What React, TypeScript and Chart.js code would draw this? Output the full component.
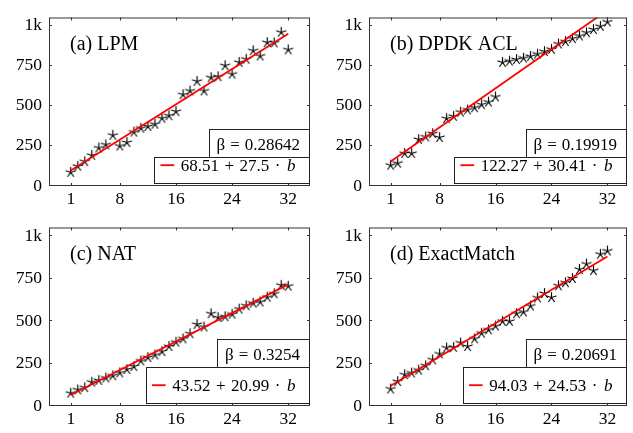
import React, { useEffect, useRef } from 'react';
import { Chart, registerables } from 'chart.js';

Chart.register(...registerables);

// ---------------- data ----------------
const bValues = [1, 2, 3, 4, 5, 6, 7, 8, 9, 10, 11, 12, 13, 14, 15, 16, 17, 18, 19, 20, 21, 22, 23, 24, 25, 26, 27, 28, 29, 30, 31, 32];
const xTickValues = [1, 8, 16, 24, 32];
const yTickValues = [0, 250, 500, 750, 1000];
const yTickLabels = ['0', '250', '500', '750', '1k'];

const lpmData = [85, 123, 152, 191, 237, 257, 316, 249, 271, 336, 360, 371, 385, 422, 438, 464, 569, 592, 652, 592, 675, 681, 750, 697, 770, 790, 843, 810, 894, 892, 958, 849];
const dpdkData = [129, 142, 203, 203, 290, 306, 326, 302, 420, 434, 460, 474, 488, 507, 523, 555, 770, 778, 788, 797, 808, 822, 838, 852, 885, 900, 918, 935, 955, 975, 995, 1022];
const natData = [75, 95, 108, 140, 150, 165, 178, 195, 215, 232, 265, 285, 300, 320, 350, 375, 395, 425, 480, 465, 543, 520, 525, 540, 570, 590, 605, 612, 640, 660, 710, 705];
const exactData = [100, 144, 184, 194, 211, 237, 272, 306, 342, 345, 371, 350, 395, 428, 448, 470, 498, 498, 543, 553, 588, 636, 662, 638, 707, 725, 750, 804, 835, 796, 893, 912];

const panelTitles = ['(a) LPM', '(b) DPDK ACL', '(c) NAT', '(d) ExactMatch'];
const intercepts = [68.51, 122.27, 43.52, 94.03];
const slopes = [27.5, 30.41, 20.99, 24.53];
const interceptLabels = ['68.51', '122.27', '43.52', '94.03'];
const slopeLabels = ['27.5', '30.41', '20.99', '24.53'];
const betaLabels = ['0.28642', '0.19919', '0.3254', '0.20691'];
const seriesList = [lpmData, dpdkData, natData, exactData];

// ---------------- layout ----------------
const SERIF = '"Liberation Serif", "Times New Roman", serif';
const panelBoxes = [
  { left: 0, top: 0, width: 316, height: 210, yAxisW: 49, xAxisH: 24, padTop: 7, xMax: 35.1 },
  { left: 316, top: 0, width: 317, height: 210, yAxisW: 53, xAxisH: 24, padTop: 7, xMax: 34.8 },
  { left: 0, top: 210, width: 316, height: 223, yAxisW: 49, xAxisH: 27, padTop: 17, xMax: 35.1 },
  { left: 316, top: 210, width: 317, height: 223, yAxisW: 53, xAxisH: 27, padTop: 17, xMax: 34.8 },
];

function makeStar(): HTMLCanvasElement {
  const c = document.createElement('canvas');
  const s = 13;
  c.width = s;
  c.height = s;
  const ctx = c.getContext('2d')!;
  ctx.strokeStyle = '#000';
  ctx.lineWidth = 1.15;
  ctx.lineCap = 'round';
  const cx = s / 2, cy = s / 2, r = 4.9;
  ctx.beginPath();
  for (let i = 0; i < 5; i++) {
    const a = -Math.PI / 2 + (i * 2 * Math.PI) / 5;
    ctx.moveTo(cx, cy);
    ctx.lineTo(cx + r * Math.cos(a), cy + r * Math.sin(a));
  }
  ctx.stroke();
  return c;
}

const decorPlugin = {
  id: 'decor',
  afterDatasetsDraw(chart: any, _args: any, opts: any) {
    const { ctx, chartArea: ca, scales } = chart;
    const idx: number = opts.index;
    ctx.save();
    // frame
    ctx.strokeStyle = '#333';
    ctx.lineWidth = 1;
    ctx.strokeRect(ca.left + 0.5, ca.top + 0.5, ca.right - ca.left - 1, ca.bottom - ca.top - 1);
    // inside ticks
    const tl = 3;
    ctx.beginPath();
    xTickValues.forEach((v) => {
      const px = Math.round(scales.x.getPixelForValue(v)) + 0.5;
      ctx.moveTo(px, ca.bottom);
      ctx.lineTo(px, ca.bottom - tl);
      ctx.moveTo(px, ca.top);
      ctx.lineTo(px, ca.top + tl);
    });
    yTickValues.forEach((v) => {
      const py = Math.round(scales.y.getPixelForValue(v)) - 0.5;
      ctx.moveTo(ca.left, py);
      ctx.lineTo(ca.left + tl, py);
      ctx.moveTo(ca.right, py);
      ctx.lineTo(ca.right - tl, py);
    });
    ctx.stroke();

    // title
    ctx.fillStyle = '#000';
    ctx.textBaseline = 'alphabetic';
    ctx.textAlign = 'left';
    ctx.font = `20px ${SERIF}`;
    ctx.fillText(panelTitles[idx], ca.left + 21, ca.top + 32);

    const right = ca.right - 0.5;
    ctx.font = `17px ${SERIF}`;
    // beta box
    const betaTop = Math.round(ca.top + 111) + 0.5;
    const eqTop = Math.round(ca.top + 139.7) + 0.5;
    const eqBottom = ca.bottom - 2.5;
    const wB = ctx.measureText('β').width;
    const wEq = ctx.measureText('=').width;
    const wVal = ctx.measureText(betaLabels[idx]).width;
    const g1 = 5, g2 = 5;
    const betaW = wB + g1 + wEq + g2 + wVal;
    const betaStart = right - 9.5 - betaW;
    const betaLeft = Math.round(betaStart - 7.7) + 0.5;
    ctx.fillStyle = '#fff';
    ctx.fillRect(betaLeft, betaTop, right - betaLeft, eqTop - betaTop);
    ctx.strokeStyle = '#222';
    ctx.strokeRect(betaLeft, betaTop, right - betaLeft, eqTop - betaTop);
    ctx.fillStyle = '#000';
    const betaBase = ca.top + 132.3;
    let x = betaStart;
    ctx.fillText('β', x, betaBase);
    x += wB + g1;
    ctx.fillText('=', x, betaBase);
    x += wEq + g2;
    ctx.fillText(betaLabels[idx], x, betaBase);

    // equation box
    const segs: { t: string; italic?: boolean; gapAfter: number }[] = [
      { t: interceptLabels[idx], gapAfter: 5.5 },
      { t: '+', gapAfter: 5.5 },
      { t: slopeLabels[idx], gapAfter: 5.5 },
      { t: '·', gapAfter: 6.5 },
      { t: 'b', italic: true, gapAfter: 0 },
    ];
    let eqW = 0;
    const widths = segs.map((s) => {
      ctx.font = `${s.italic ? 'italic ' : ''}17px ${SERIF}`;
      const w = ctx.measureText(s.t).width;
      eqW += w + s.gapAfter;
      return w;
    });
    const textStart = right - 14 - eqW;
    const eqLeft = Math.round(textStart - 26.6) + 0.5;
    ctx.fillStyle = '#fff';
    ctx.fillRect(eqLeft, eqTop, right - eqLeft, eqBottom - eqTop);
    ctx.strokeStyle = '#222';
    ctx.strokeRect(eqLeft, eqTop, right - eqLeft, eqBottom - eqTop);
    const eqBase = ca.bottom - 15.3;
    ctx.strokeStyle = '#ff0000';
    ctx.lineWidth = 1.8;
    ctx.beginPath();
    ctx.moveTo(textStart - 20.3, eqBase - 5.5);
    ctx.lineTo(textStart - 6.6, eqBase - 5.5);
    ctx.stroke();
    ctx.fillStyle = '#000';
    x = textStart;
    segs.forEach((s, i) => {
      ctx.font = `${s.italic ? 'italic ' : ''}17px ${SERIF}`;
      ctx.fillText(s.t, x, eqBase);
      x += widths[i] + s.gapAfter;
    });
    ctx.restore();
  },
};

function Panel({ index }: { index: number }) {
  const ref = useRef<HTMLCanvasElement>(null);
  const box = panelBoxes[index];
  useEffect(() => {
    const series = seriesList[index];
    const a = intercepts[index];
    const s = slopes[index];
    const first = bValues[0];
    const last = bValues[bValues.length - 1];
    const star = makeStar();
    const tickFont = { family: SERIF, size: 17.5 };
    const chart = new Chart(ref.current!, {
      type: 'scatter',
      data: {
        datasets: [
          {
            type: 'line',
            data: [
              { x: first, y: a + s * first },
              { x: last, y: a + s * last },
            ],
            borderColor: '#ff0000',
            borderWidth: 1.8,
            pointRadius: 0,
            fill: false,
            order: 0,
          } as any,
          {
            type: 'scatter',
            data: bValues.map((b, i) => ({ x: b, y: series[i] })),
            pointStyle: star as any,
            pointRadius: 5,
            borderColor: '#000',
            backgroundColor: '#000',
            order: 1,
          } as any,
        ],
      },
      options: {
        responsive: false,
        animation: false,
        events: [],
        layout: { padding: { top: box.padTop, right: 0, left: 0, bottom: 0 } },
        plugins: {
          legend: { display: false },
          tooltip: { enabled: false },
          decor: { index },
        } as any,
        scales: {
          x: {
            type: 'linear',
            min: -2.1,
            max: box.xMax,
            grid: { display: false, drawTicks: false },
            border: { display: false },
            ticks: { font: tickFont, color: '#000', padding: 3, autoSkip: false, maxRotation: 0 },
            afterBuildTicks: (sc: any) => {
              sc.ticks = xTickValues.map((v) => ({ value: v }));
            },
            afterFit: (sc: any) => {
              sc.height = box.xAxisH;
            },
          },
          y: {
            type: 'linear',
            min: 0,
            max: 1050,
            grid: { display: false, drawTicks: false },
            border: { display: false },
            ticks: {
              font: tickFont,
              color: '#000',
              padding: 7,
              autoSkip: false,
              callback: (v: any) => {
                const k = yTickValues.indexOf(Number(v));
                return k >= 0 ? yTickLabels[k] : '';
              },
            },
            afterBuildTicks: (sc: any) => {
              sc.ticks = yTickValues.map((v) => ({ value: v }));
            },
            afterFit: (sc: any) => {
              sc.width = box.yAxisW;
            },
          },
        },
      } as any,
      plugins: [decorPlugin as any],
    });
    return () => chart.destroy();
  }, [index]);
  return (
    <canvas
      ref={ref}
      width={box.width}
      height={box.height}
      style={{ position: 'absolute', left: box.left, top: box.top, width: box.width, height: box.height }}
    />
  );
}

export default function App() {
  return (
    <div style={{ position: 'fixed', left: 0, top: 0, width: 633, height: 433, background: '#fff', overflow: 'hidden' }}>
      {[0, 1, 2, 3].map((i) => (
        <Panel key={i} index={i} />
      ))}
    </div>
  );
}
